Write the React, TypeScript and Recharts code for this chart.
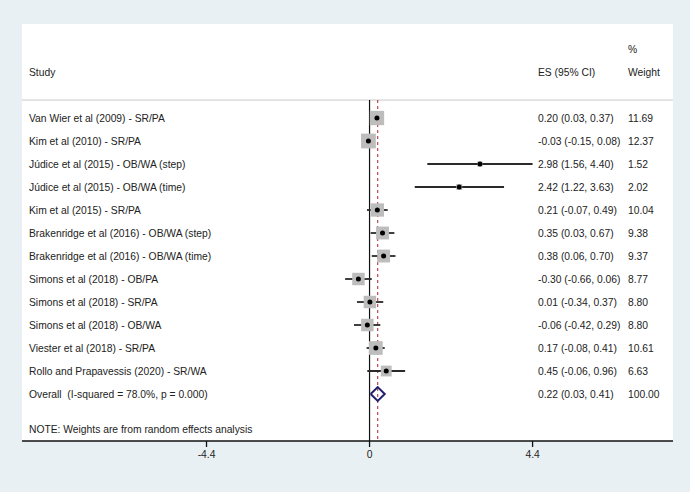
import React from "react";
import {CartesianGrid, ComposedChart, ErrorBar, ReferenceLine, Scatter, XAxis, YAxis} from "recharts";

const studies = [
	"Van Wier et al (2009) - SR/PA",
	"Kim et al (2010) - SR/PA",
	"Júdice et al (2015) - OB/WA (step)",
	"Júdice et al (2015) - OB/WA (time)",
	"Kim et al (2015) - SR/PA",
	"Brakenridge et al (2016) - OB/WA (step)",
	"Brakenridge et al (2016) - OB/WA (time)",
	"Simons et al (2018) - OB/PA",
	"Simons et al (2018) - SR/PA",
	"Simons et al (2018) - OB/WA",
	"Viester et al (2018) - SR/PA",
	"Rollo and Prapavessis (2020) - SR/WA"
];
const es = [0.20, -0.03, 2.98, 2.42, 0.21, 0.35, 0.38, -0.30, 0.01, -0.06, 0.17, 0.45];
const ciLow = [0.03, -0.15, 1.56, 1.22, -0.07, 0.03, 0.06, -0.66, -0.34, -0.42, -0.08, -0.06];
const ciHigh = [0.37, 0.08, 4.40, 3.63, 0.49, 0.67, 0.70, 0.06, 0.37, 0.29, 0.41, 0.96];
const weights = [11.69, 12.37, 1.52, 2.02, 10.04, 9.38, 9.37, 8.77, 8.80, 8.80, 10.61, 6.63];

const overallLabel = "Overall  (I-squared = 78.0%, p = 0.000)";
const overallEs = 0.22;
const overallLow = 0.03;
const overallHigh = 0.41;
const overallWeight = 100.0;

const xTicks = [-4.4, 0, 4.4];
const noteText = "NOTE: Weights are from random effects analysis";

// layout (row units, 23px each)
const X_DOMAIN: [number, number] = [-9.38, 8.19];
const Y_DOMAIN: [number, number] = [-4.087, 14.043];
const SEP_Y = -0.78;
const TEXT = "#222";
const FONT = "'Liberation Sans', Arial, Helvetica, sans-serif";
const FS = 10.3;

const fmt = (v: number) => v.toFixed(2);

const studyRows = studies.map((name, i) => ({
	x: es[i],
	y: i,
	w: weights[i],
	err: [es[i] - ciLow[i], ciHigh[i] - es[i]]
}));

const textRows = [
	{x: 0, y: -3, study: "", esText: "", wText: "%"},
	{x: 0, y: -2, study: "Study", esText: "ES (95% CI)", wText: "Weight"},
	...studies.map((name, i) => ({
		x: 0,
		y: i,
		study: name,
		esText: `${fmt(es[i])} (${fmt(ciLow[i])}, ${fmt(ciHigh[i])})`,
		wText: fmt(weights[i])
	})),
	{
		x: 0,
		y: studies.length,
		study: overallLabel,
		esText: `${fmt(overallEs)} (${fmt(overallLow)}, ${fmt(overallHigh)})`,
		wText: fmt(overallWeight)
	},
	{x: 0, y: 13.55, study: noteText, esText: "", wText: ""}
];

const oy = studies.length;
const diamond = [
	{x: overallLow, y: oy},
	{x: overallEs, y: oy - 0.3},
	{x: overallHigh, y: oy},
	{x: overallEs, y: oy + 0.3},
	{x: overallLow, y: oy}
];

const SquareShape = (props: any) => {
	const {cx, cy, payload} = props;
	const s = 4.2 * Math.sqrt(payload.w);
	return <rect x={cx - s / 2} y={cy - s / 2} width={s} height={s} fill="#bdbdbd"/>;
};

const DotShape = (props: any) => <circle cx={props.cx} cy={props.cy} r={2.5} fill="#000"/>;

const TextShape = (props: any) => {
	const {cy, payload} = props;
	const st = {fontFamily: FONT, fontSize: FS, fill: TEXT, whiteSpace: "pre" as const};
	return (
		<g>
			<text x={29} y={cy} dominantBaseline="central" style={st}>{payload.study}</text>
			<text x={538} y={cy} dominantBaseline="central" style={st}>{payload.esText}</text>
			<text x={628} y={cy} dominantBaseline="central" style={st}>{payload.wText}</text>
		</g>
	);
};

const App = () => {
	return (
		<div style={{position: "absolute", left: 0, top: 0, width: 690, height: 492, background: "#e9f0f3"}}>
			<ComposedChart width={690} height={492} margin={{top: 24, right: 17, bottom: 21, left: 22}}>
				<CartesianGrid horizontal={false} vertical={false} fill="#fff" stroke="none"/>
				<XAxis type="number" dataKey="x" domain={X_DOMAIN} allowDataOverflow ticks={xTicks}
				       height={30} stroke="#111" strokeWidth={1.3} tickSize={6} tickMargin={4}
				       tick={{fill: TEXT, fontSize: FS, fontFamily: FONT}}
				       tickFormatter={(v: number) => String(v)}/>
				<YAxis type="number" dataKey="y" domain={Y_DOMAIN} allowDataOverflow reversed hide/>
				<ReferenceLine segment={[{x: X_DOMAIN[0], y: SEP_Y}, {x: X_DOMAIN[1], y: SEP_Y}]}
				               stroke="#c8c8c8" strokeWidth={1}/>
				<ReferenceLine segment={[{x: 0, y: SEP_Y}, {x: 0, y: Y_DOMAIN[1]}]} stroke="#111" strokeWidth={1.2}/>
				<ReferenceLine segment={[{x: overallEs, y: SEP_Y}, {x: overallEs, y: Y_DOMAIN[1]}]}
				               stroke="#b8343a" strokeWidth={1.1} strokeDasharray="3 3"/>
				<Scatter data={studyRows} shape={SquareShape} isAnimationActive={false}/>
				<Scatter data={studyRows} shape={DotShape} isAnimationActive={false}>
					<ErrorBar dataKey="err" direction="x" width={0} stroke="#2a2a2a" strokeWidth={1.8}/>
				</Scatter>
				<Scatter data={diamond} line={{stroke: "#1f1f6e", strokeWidth: 2}} lineType="joint"
				         shape={() => <g/>} isAnimationActive={false}/>
				<Scatter data={textRows} shape={TextShape} isAnimationActive={false}/>
			</ComposedChart>
		</div>
	);
};

export default App;
